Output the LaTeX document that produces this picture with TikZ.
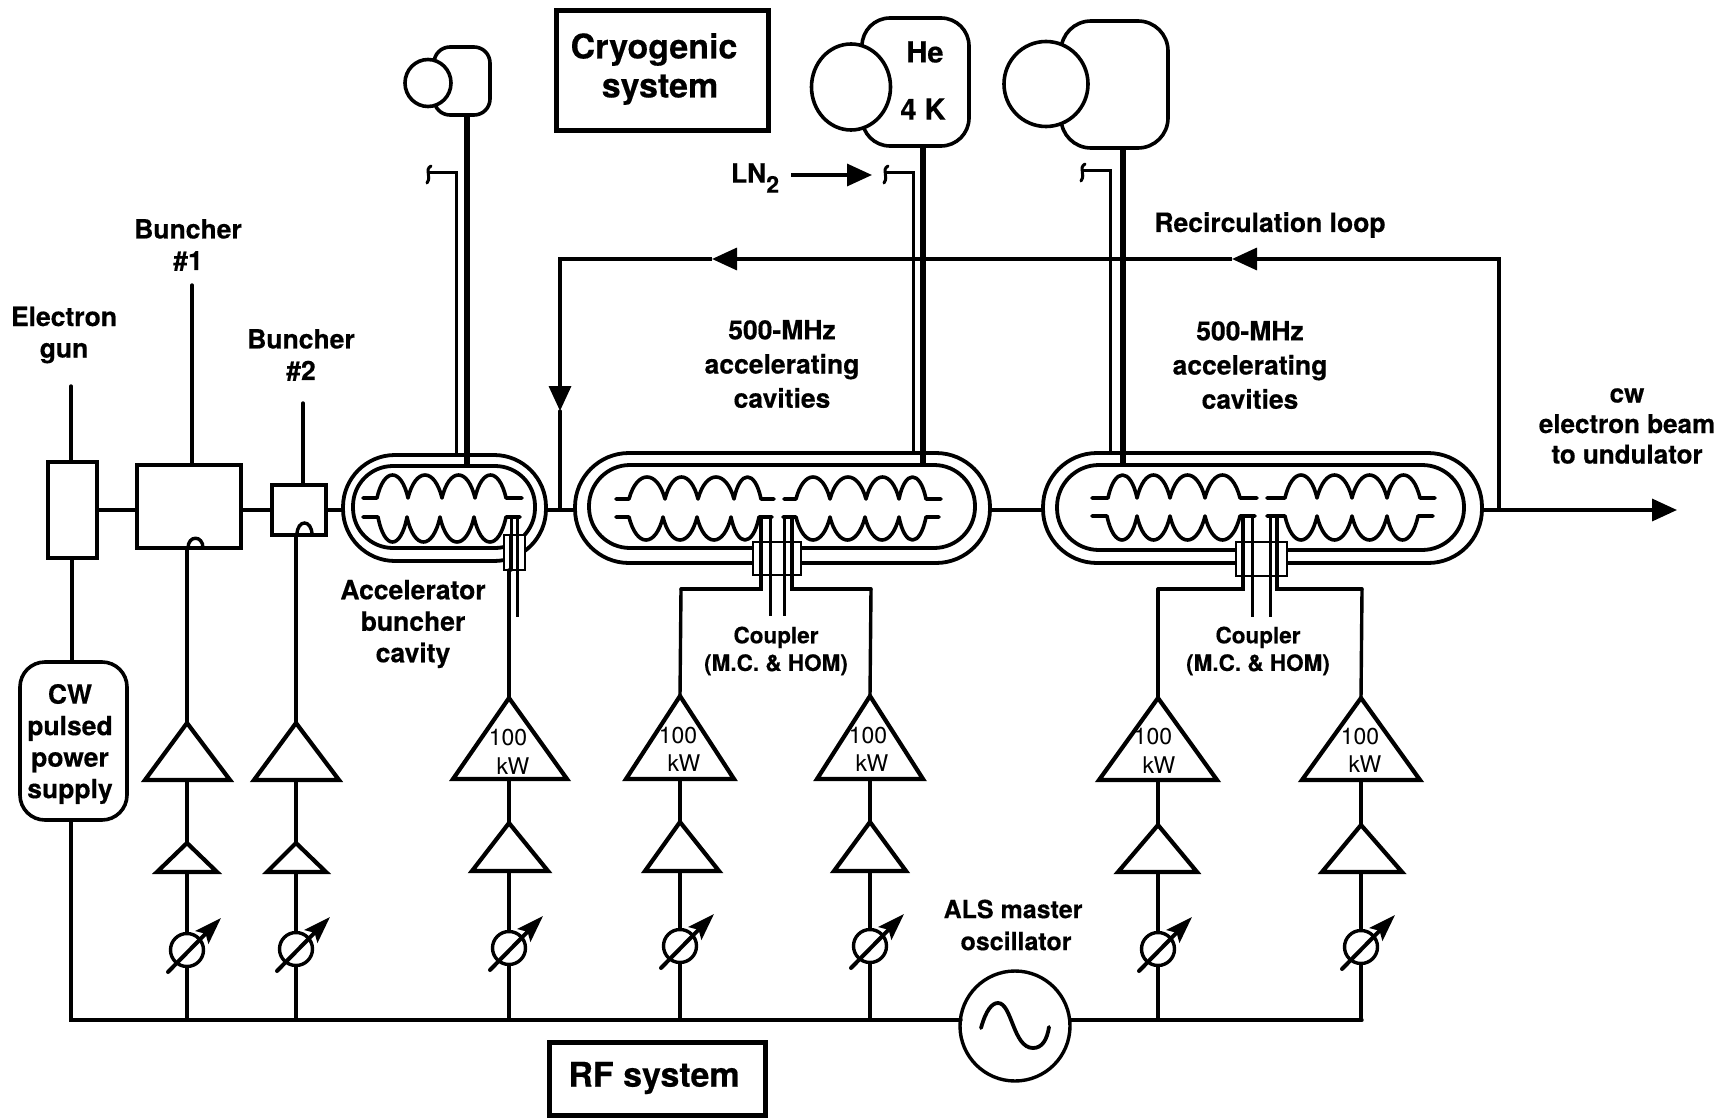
\documentclass[tikz,border=0pt]{standalone}
\usepackage{fontspec}
\setmainfont[BoldFeatures={FakeBold=0.4}]{TeX Gyre Heros}
\usetikzlibrary{shapes.geometric,arrows.meta}
\tikzset{
  wire/.style={line width=3.4pt,line cap=round},
  thinwire/.style={line width=3pt},
  thickwire/.style={line width=6pt},
  boxn/.style={draw,line width=3.6pt,fill=white,inner sep=0pt,outer sep=0pt},
  module/.style={boxn,line width=3.8pt},
  sleeve/.style={draw,fill=white,line width=2.6pt,inner sep=0pt,outer sep=0pt},
  cavline/.style={line width=3.6pt,line cap=round,line join=round},
  ampl/.style={draw,line width=4.2pt,fill=white,line join=miter},
  phasec/.style={circle,draw,line width=3.4pt,fill=white,inner sep=0pt,outer sep=0pt,minimum size=33pt},
  phasea/.style={line width=4pt,-{Stealth[length=27pt,width=18pt,inset=5pt]},line cap=round},
  flow/.style={line width=3.4pt,-{Triangle[length=25pt,width=22pt]}},
  lab/.style={font=\fontsize{26.5}{31.5}\selectfont\bfseries,align=center,inner sep=0pt},
  tallab/.style={font=\fontsize{26.5}{34.2}\selectfont\bfseries,align=center,inner sep=0pt},
  smalllab/.style={font=\fontsize{22.5}{27.6}\selectfont\bfseries,align=center,inner sep=0pt},
  biglab/.style={font=\fontsize{34}{39}\selectfont\bfseries,align=center,inner sep=0pt},
  kw/.style={font=\fontsize{23}{24}\selectfont,inner sep=0pt},
  dewarb/.style={boxn},
  dewarc/.style={ellipse,draw,line width=3.6pt,fill=white,inner sep=0pt,outer sep=0pt},
}
% box from corners: style, name, x1, y1, x2, y2
\newcommand\bxn[6]{\node[#1,minimum width={(#5-#3)*1pt},minimum height={(#6-#4)*1pt}] (#2) at ({(#3+#5)/2},{(#4+#6)/2}) {};}
% one row of cavity cells
\newcommand\cav[9]{\draw[cavline] (#1,#8) -- (#2,#8)
  .. controls ({#2+.22*(#3-#2)},{#8+(#9-#8)*4/3}) and ({#3-.22*(#3-#2)},{#8+(#9-#8)*4/3}) .. (#3,#8)
  .. controls ({#3+.22*(#4-#3)},{#8+(#9-#8)*4/3}) and ({#4-.22*(#4-#3)},{#8+(#9-#8)*4/3}) .. (#4,#8)
  .. controls ({#4+.22*(#5-#4)},{#8+(#9-#8)*4/3}) and ({#5-.22*(#5-#4)},{#8+(#9-#8)*4/3}) .. (#5,#8)
  .. controls ({#5+.22*(#6-#5)},{#8+(#9-#8)*4/3}) and ({#6-.22*(#6-#5)},{#8+(#9-#8)*4/3}) .. (#6,#8)
  -- (#7,#8);}
% amplifier triangle: name, x, apex y, base y, left x, right x
\newcommand\ampn[6]{\coordinate (#1-a) at (#2,#3); \coordinate (#1-b) at (#2,#4);
  \draw[ampl] (#2,#3) -- (#6,#4) -- (#5,#4) -- cycle;}
% phase shifter: name, x, y
\newcommand\phasen[3]{\node[phasec] (#1) at (#2,#3) {};
  \coordinate (#1-s) at ({#2-19},{#3+22}); \coordinate (#1-t) at ({#2+34},{#3-32});
  \draw[phasea] (#1-s) -- (#1-t);}
% LN2 connection hook: name, x, y
\newcommand\hookn[3]{\coordinate (#1) at (#2,#3);
  \draw[line width=3pt,line cap=round] ({#2+3},{#3-7}) .. controls ({#2-4},{#3-3}) and ({#2+4},{#3+3}) .. ({#2-1},{#3+10});}
\begin{document}
\begin{tikzpicture}[x=1pt,y=-1pt]
\useasboundingbox[fill=white] (0,0) rectangle (1731,1118);

% ---- cryo plants
\bxn{dewarb,rounded corners=16pt}{d1b}{434}{47}{490}{115}
\node[dewarc,minimum width=46pt,minimum height=47pt] (d1c) at (428,83) {};
\bxn{dewarb,rounded corners=28pt}{d2b}{862}{18}{969}{146}
\node[dewarc,minimum width=79pt,minimum height=86pt] (d2c) at (851,87) {};
\bxn{dewarb,rounded corners=30pt}{d3b}{1061}{21}{1168}{148}
\node[dewarc,minimum width=84pt,minimum height=85pt] (d3c) at (1046,84) {};
\node[lab,font=\fontsize{29}{32}\selectfont\bfseries] (he) at (925,52) {He};
\node[lab,font=\fontsize{29}{32}\selectfont\bfseries] (fk) at (923,109) {4 K};

% ---- system boxes
\bxn{boxn,line width=5pt}{cryo}{556}{11}{768}{131}
\node[biglab] (cryot) at (654,69) {Cryogenic\\\hspace{12pt}system};
\bxn{boxn,line width=5pt}{rf}{549}{1042}{765}{1115}
\node[biglab] (rft) at (654,1078) {RF system};

% ---- injector boxes
\bxn{boxn}{gun}{48}{462}{97}{558}
\bxn{boxn}{b1}{137}{465}{241}{548}
\bxn{boxn}{b2}{272}{485}{326}{535}
\draw[wire] (188,548) .. controls (188,535) and (203,535) .. (203,548);
\draw[wire] (297,535) .. controls (297,519) and (312,519) .. (312,535);
\coordinate (b1in) at (188,548);
\coordinate (b2in) at (296,535);

% ---- cryomodules
\bxn{module,rounded corners=52pt}{m1o}{343}{455}{546}{561}
\bxn{module,rounded corners=40pt}{m1i}{353}{466}{535}{548}
\bxn{module,rounded corners=54pt}{m2o}{575}{453}{990}{563}
\bxn{module,rounded corners=41pt}{m2i}{589}{465}{975}{548}
\bxn{module,rounded corners=54pt}{m3o}{1043}{453}{1482}{563}
\bxn{module,rounded corners=42pt}{m3i}{1057}{465}{1464}{550}

% ---- cavity cells
\cav{363}{377}{408}{442}{475}{506}{522}{498}{475}
\cav{363}{378}{407}{440}{474}{506}{520}{517}{542}
\cav{616}{629}{665}{698}{734}{761}{774}{499}{477}
\cav{784}{796}{830}{866}{899}{926}{941}{499}{477}
\cav{616}{629}{663}{697}{731}{759}{772}{517}{540}
\cav{783}{796}{830}{865}{899}{926}{939}{517}{540}
\cav{1092}{1108}{1137}{1170}{1205}{1240}{1257}{498}{475}
\cav{1267}{1285}{1317}{1352}{1387}{1420}{1435}{498}{475}
\cav{1092}{1107}{1137}{1170}{1205}{1240}{1255}{516}{540}
\cav{1267}{1285}{1317}{1352}{1387}{1418}{1433}{516}{540}

% ---- couplers
\bxn{sleeve}{c1}{504}{535}{525}{570}
\bxn{sleeve}{c2}{753}{542}{801}{575}
\bxn{sleeve}{c3}{1236}{542}{1287}{576}
\coordinate (c1e) at (517.5,617);
\coordinate (c2a) at (761,517); \coordinate (c2b) at (770,517);
\coordinate (c2c) at (784,517); \coordinate (c2d) at (792,517);
\coordinate (c3a) at (1243,516); \coordinate (c3b) at (1252,516);
\coordinate (c3c) at (1270,516); \coordinate (c3d) at (1277,516);
\draw[thinwire] (511,517) -- (511,535) (517.5,517) -- (c1e);
\draw[wire] (511,535) -- (511,570);
\draw[thinwire] (c2b) -- (770,616) (c2c) -- (784,616);
\draw[thinwire] (c3b) -- (1252,617) (c3c) -- (1270,617);
\coordinate (t2l) at (681,589); \coordinate (t2r) at (871,589);
\coordinate (t3l) at (1158,589); \coordinate (t3r) at (1362,589);
\draw[wire] (t2l) -- (c2a |- t2l) -- (c2a);
\draw[wire] (t2r) -- (c2d |- t2r) -- (c2d);
\draw[wire] (t3l) -- (c3a |- t3l) -- (c3a);
\draw[wire] (t3r) -- (c3d |- t3r) -- (c3d);

% ---- beam line
\coordinate (beamend) at (1677,510);
\draw[wire] (gun.east) -- (gun.east -| b1.west);
\draw[wire] (gun.east -| b1.east) -- (gun.east -| b2.west);
\draw[wire] (gun.east -| b2.east) -- (gun.east -| m1o.west);
\draw[wire] (gun.east -| m1o.east) -- (gun.east -| m2o.west);
\draw[wire] (gun.east -| m2o.east) -- (gun.east -| m3o.west);
\draw[flow] (gun.east -| m3o.east) -- (beamend);

% ---- recirculation loop
\coordinate (ra) at (1499,510); \coordinate (rb) at (1499,259);
\coordinate (rc) at (1232,259); \coordinate (rd) at (712,259);
\coordinate (re) at (560,259);  \coordinate (rf2) at (560,411);
\coordinate (rg) at (560,510);
\draw[flow,line cap=butt] (ra) -- (rb) -- (rc);
\draw[flow] (rc) -- (rd);
\draw[flow] (rd) -- (re) -- (rf2);
\draw[wire] (rf2) -- (rg);

% ---- cryo lines
\hookn{h1}{428}{173}
\hookn{h2}{885}{173}
\hookn{h3}{1082}{171}
\draw[thickwire] (d1b.south -| 467,0) -- (467,466);
\draw[thickwire] (d2b.south -| 923,0) -- (923,465);
\draw[thickwire] (d3b.south -| 1123,0) -- (1123,465);
\draw[thinwire] (h1) -- (456,173) -- (456,455);
\draw[thinwire] (h2) -- (913,173) -- (913,453);
\draw[thinwire] (h3) -- (1110,171) -- (1110,453);
\coordinate (ln) at (791,175); \coordinate (lnt) at (872,175);
\draw[flow] (ln) -- (lnt);
\node[lab] (lnl) at (755,178) {LN\raisebox{-.38em}{\fontsize{23}{24}\selectfont 2}};

% ---- power supply and master oscillator
\bxn{boxn,rounded corners=25pt,align=center}{psu}{20}{662}{127}{820}
\node[lab] (psut) at (70,744) {CW\\pulsed\\power\\supply};
\node[circle,draw,line width=3.4pt,fill=white,inner sep=0pt,outer sep=0pt,minimum size=110pt] (osc) at (1015,1026) {};
\draw[line width=3.8pt,line cap=round] (981,1028) .. controls (986,1010) and (992,1003) .. (998,1003)
  .. controls (1012,1003) and (1013,1048) .. (1033,1048) .. controls (1042,1048) and (1047,1040) .. (1049,1027);
\coordinate (ps0) at (71,820); \coordinate (bus0) at (71,1020);
\coordinate (oscl) at (961,1020); \coordinate (oscr) at (1070,1020);
\coordinate (busr) at (1362,1020);
\draw[wire] (gun.south -| 72,0) -- (psu.north -| 72,0);
\draw[wire] (ps0) -- (bus0) -- (oscl);
\draw[wire] (oscr) -- (busr);

% ---- RF chains
\ampn{a1}{187}{723}{780}{145}{230} \ampn{s1}{187}{843}{872}{157}{217} \phasen{p1}{187}{950}
\ampn{a2}{296}{723}{780}{254}{339} \ampn{s2}{296}{843}{872}{267}{326} \phasen{p2}{296}{949}
\ampn{a3}{509}{698}{779}{453}{567} \ampn{s3}{509}{823}{871}{472}{548} \phasen{p3}{509}{948}
\ampn{a4}{680}{696}{779}{626}{734} \ampn{s4}{680}{822}{871}{645}{719} \phasen{p4}{680}{946}
\ampn{a5}{870}{696}{779}{817}{923} \ampn{s5}{870}{822}{871}{834}{906} \phasen{p5}{870}{946}
\ampn{a6}{1158}{698}{780}{1099}{1217} \ampn{s6}{1158}{825}{872}{1118}{1197} \phasen{p6}{1158}{949}
\ampn{a7}{1361}{698}{780}{1302}{1420} \ampn{s7}{1361}{825}{872}{1322}{1402} \phasen{p7}{1361}{947}
\foreach \n/\x in {1/187,2/296,3/509,4/680,5/870,6/1158,7/1361} {
  \coordinate (j\n) at (\x,1020);
  \draw[wire] (j\n) -- (p\n);
  \draw[wire] (p\n) -- (s\n-b);
  \draw[wire] (s\n-a) -- (a\n-b);
}
\draw[wire] (a1-a) -- (a1-a |- b1in);
\draw[wire] (a2-a) -- (a2-a |- b2in);
\draw[wire] (a3-a) -- (a3-a |- c1.south);
\draw[wire] (a4-a) -- (t2l);
\draw[wire] (a5-a) -- (t2r);
\draw[wire] (a6-a) -- (t3l);
\draw[wire] (a7-a) -- (t3r);
\node[kw] (k3a) at (508,738) {100}; \node[kw] (k3b) at (513,766) {kW};
\node[kw] (k4a) at (678,736) {100}; \node[kw] (k4b) at (684,763) {kW};
\node[kw] (k5a) at (868,736) {100}; \node[kw] (k5b) at (872,763) {kW};
\node[kw] (k6a) at (1153,737) {100}; \node[kw] (k6b) at (1159,765) {kW};
\node[kw] (k7a) at (1360,737) {100}; \node[kw] (k7b) at (1365,764) {kW};

% ---- labels and leaders
\node[lab] (tgun) at (64,335) {Electron\\gun};
\node[lab] (tb1) at (188,245) {Buncher\\\#1};
\node[lab] (tb2) at (301,355) {Buncher\\\#2};
\coordinate (lg) at (71,386); \coordinate (l1) at (192,285); \coordinate (l2) at (303,403);
\draw[wire] (lg) -- (lg |- gun.north);
\draw[wire] (l1) -- (l1 |- b1.north);
\draw[wire] (l2) -- (l2 |- b2.north);
\node[lab] (tab) at (413,624) {Accelerator\\buncher\\cavity};
\node[tallab] (tc2) at (782,364) {500-MHz\\accelerating\\cavities};
\node[tallab] (tc3) at (1250,365) {500-MHz\\accelerating\\cavities};
\node[lab] (tloop) at (1270,225) {Recirculation loop};
\node[lab,font=\fontsize{26}{30.5}\selectfont\bfseries] (tbeam) at (1627,426) {cw\\electron beam\\to undulator};
\node[smalllab] (tcp2) at (776,651) {Coupler\\(M.C. \& HOM)};
\node[smalllab] (tcp3) at (1258,651) {Coupler\\(M.C. \& HOM)};
\node[lab,font=\fontsize{25}{32}\selectfont\bfseries] (tosc) at (1013,925) {ALS master\\ \hspace{6pt}oscillator};
\end{tikzpicture}
\end{document}
